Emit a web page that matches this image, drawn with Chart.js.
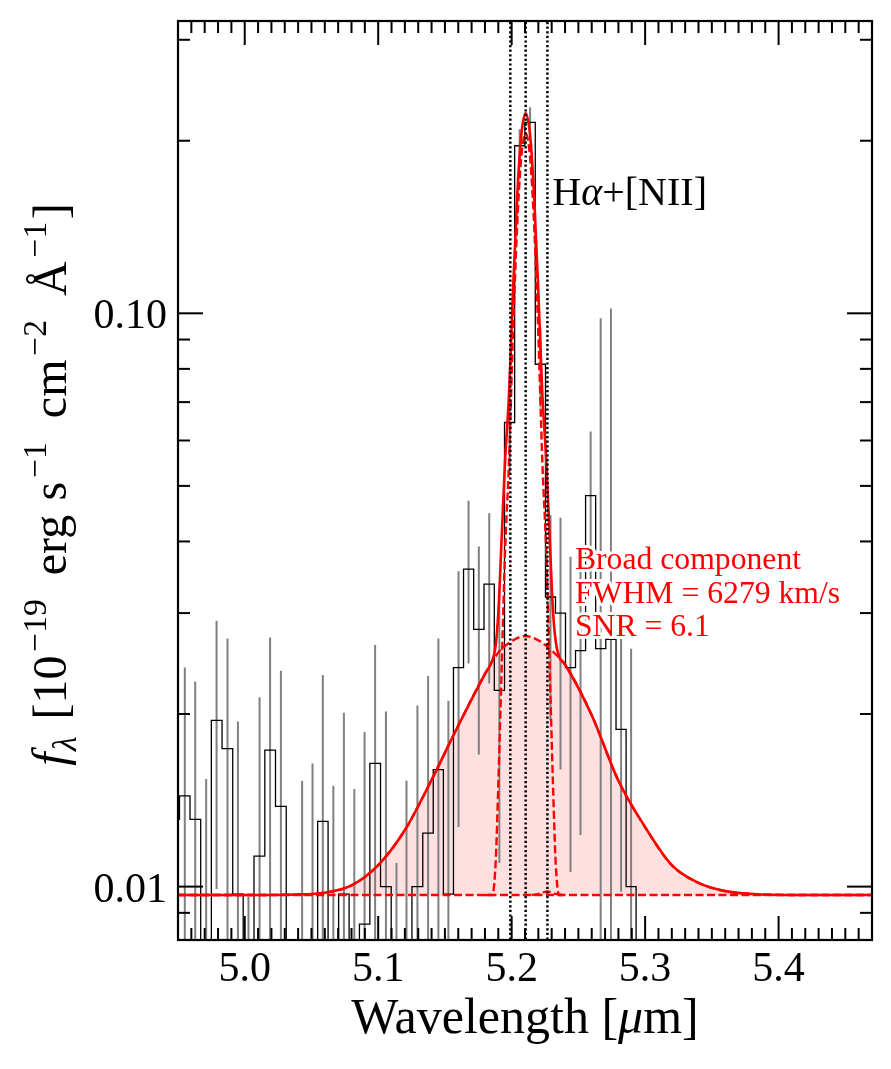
<!DOCTYPE html>
<html>
<head>
<meta charset="utf-8">
<script src="https://cdn.jsdelivr.net/npm/chart.js@4.4.1/dist/chart.umd.min.js"></script>
<style>
  html, body { margin: 0; padding: 0; background: #fff; }
  canvas { display: block; }
</style>
</head>
<body>
<canvas id="spec" width="891" height="1069"></canvas>
<script>
// binned spectrum: bin centres [micron], flux and 1-sigma error [1e-19 erg/s/cm2/A]
const wave = [4.9471, 4.9551, 4.9629, 4.9711, 4.9789, 4.9871, 4.9949, 5.0028, 5.0111, 5.0190,
              5.0271, 5.0351, 5.0430, 5.0508, 5.0585, 5.0664, 5.0743, 5.0821, 5.0898, 5.0977,
              5.1058, 5.1137, 5.1212, 5.1294, 5.1374, 5.1451, 5.1526, 5.1602, 5.1677, 5.1754,
              5.1832, 5.1908, 5.1985, 5.2060, 5.2138, 5.2216, 5.2291, 5.2366, 5.2441, 5.2516,
              5.2592, 5.2667, 5.2744, 5.2820, 5.2895, 5.2970];
const flux = [0.0131, 0.0144, 0.0131, 0.0057, 0.0195, 0.0174, 0.0097, 0.0020, 0.0113, 0.0173,
              0.0138, 0.0040, 0.0055, 0.0065, 0.0130, 0.0050, 0.0097, 0.0048, 0.0086, 0.0164,
              0.0100, 0.0010, 0.0050, 0.0100, 0.0124, 0.0160, 0.0097, 0.0241, 0.0358, 0.0281,
              0.0337, 0.0220, 0.0645, 0.1960, 0.2153, 0.0815, 0.0320, 0.0300, 0.0241, 0.0258,
              0.0481, 0.0260, 0.0270, 0.0188, 0.0100, 0.0010];
const fluxErr = [0.0097, 0.0097, 0.0097, 0.0097, 0.0096, 0.0097, 0.0097, 0.0076, 0.0101, 0.0099,
                 0.0100, 0.0030, 0.0098, 0.0099, 0.0104, 0.0100, 0.0104, 0.0100, 0.0100, 0.0100,
                 0.0102, 0.0100, 0.0103, 0.0107, 0.0109, 0.0111, 0.0114, 0.0114, 0.0113, 0.0111,
                 0.0111, 0.0110, 0.0120, 0.0134, 0.0134, 0.0130, 0.0125, 0.0140, 0.0135, 0.0135,
                 0.0141, 0.0720, 0.0750, 0.0090, 0.0160, 0];

// fitted model
const contWave = [4.95, 5.47];
const contFlux = [0.00967, 0.00967];

const broadWave = [4.95, 5.00, 5.04, 5.06, 5.08, 5.10, 5.12, 5.14, 5.16, 5.18, 5.19, 5.20, 5.21,
                   5.22, 5.23, 5.24, 5.26, 5.28, 5.30, 5.32, 5.34, 5.36, 5.38, 5.42, 5.47];
const broadFlux = [0.00967, 0.00967, 0.00969, 0.00976, 0.01005, 0.01090, 0.01255, 0.01535, 0.01910,
                   0.02350, 0.02560, 0.02680, 0.02736, 0.02690, 0.02580, 0.02440, 0.01990, 0.01530,
                   0.01270, 0.01090, 0.01015, 0.00982, 0.00971, 0.00967, 0.00967];

const narrowWave = [5.1800, 5.1855, 5.1880, 5.1900, 5.1925, 5.1950, 5.1980, 5.2010, 5.2040, 5.2070,
                    5.2105, 5.2140, 5.2170, 5.2200, 5.2230, 5.2260, 5.2285, 5.2310, 5.2330, 5.2355, 5.2400];
const narrowFlux = [0.00967, 0.00967, 0.0110, 0.0150, 0.0240, 0.0380, 0.0550, 0.0920, 0.1400, 0.1850,
                    0.2060, 0.1850, 0.1400, 0.0920, 0.0550, 0.0380, 0.0240, 0.0150, 0.0110, 0.00967, 0.00967];

const niiWave = [5.2150, 5.2210, 5.2268, 5.2320, 5.2380];
const niiFlux = [0.00967, 0.00972, 0.00981, 0.00972, 0.00967];

const totalWave = [4.95, 5.00, 5.04, 5.06, 5.08, 5.10, 5.12, 5.14, 5.16, 5.18, 5.1855, 5.1880, 5.1900,
                   5.1925, 5.1950, 5.1980, 5.2010, 5.2040, 5.2070, 5.2105, 5.2140, 5.2170, 5.2200,
                   5.2230, 5.2260, 5.2285, 5.2310, 5.2330, 5.2355, 5.24, 5.26, 5.28, 5.30, 5.32,
                   5.34, 5.36, 5.38, 5.42, 5.47];
const totalFlux = [0.00967, 0.00967, 0.00969, 0.00976, 0.01005, 0.01090, 0.01255, 0.01535, 0.01910,
                   0.02350, 0.0248, 0.0263, 0.0300, 0.0405, 0.0548, 0.0720, 0.1090, 0.1572, 0.2023,
                   0.2236, 0.2023, 0.1572, 0.1090, 0.0722, 0.0550, 0.0405, 0.0302, 0.0268, 0.0252,
                   0.0244, 0.0199, 0.0153, 0.0127, 0.0109, 0.01015, 0.00982, 0.00971, 0.00967, 0.00967];

// Halpha, [NII] 6548, 6583 at the fitted redshift
const lineWave = [5.1990, 5.2105, 5.2268];

const xTicks = [5.0, 5.1, 5.2, 5.3, 5.4];
const xTickLabels = ['5.0', '5.1', '5.2', '5.3', '5.4'];
const yTicks = [0.01, 0.1];
const yTickLabels = ['0.01', '0.10'];
const yMinor = [0.009, 0.02, 0.03, 0.04, 0.05, 0.06, 0.07, 0.08, 0.09, 0.2, 0.3];

const xy = (xs, ys) => xs.map((x, i) => ({ x: x, y: ys[i] }));

const errPts = [];
wave.forEach((w, i) => {
    errPts.push({ x: w, y: Math.max(flux[i] - fluxErr[i], 1e-4) });
    errPts.push({ x: w, y: flux[i] + fluxErr[i] });
    errPts.push({ x: w, y: null });
});

const SERIF = '"Liberation Serif", "Times New Roman", serif';
const RED = '#ff0000';

function segFont(p, size) {
    const s = (p.sup || p.sub) ? size * 0.7 : size;
    return (p.italic ? 'italic ' : '') + s.toFixed(1) + 'px ' + SERIF;
}

// draws a run of text pieces (italic / super / subscript); pre/pad = extra gap before/after, in em
function richText(ctx, parts, x, y, size, align) {
    let w = 0;
    parts.forEach(p => {
        ctx.font = segFont(p, size);
        p.w = ctx.measureText(p.t).width + ((p.pre || 0) + (p.pad || 0)) * size;
        w += p.w;
    });
    let cx = align === 'center' ? x - w / 2 : x;
    parts.forEach(p => {
        ctx.font = segFont(p, size);
        const dy = p.sup ? -0.42 * size : (p.sub ? 0.2 * size : 0);
        ctx.fillText(p.t, cx + (p.pre || 0) * size, y + dy);
        cx += p.w;
    });
}

const axesDecor = {
    id: 'axesDecor',
    afterDatasetsDraw(chart) {
        const ctx = chart.ctx, a = chart.chartArea;
        const xs = chart.scales.x, ys = chart.scales.y;
        ctx.save();
        ctx.strokeStyle = '#000';
        ctx.fillStyle = '#000';

        // inward ticks on all four sides
        const tick = (x1, y1, x2, y2, lw) => {
            ctx.lineWidth = lw;
            ctx.beginPath(); ctx.moveTo(x1, y1); ctx.lineTo(x2, y2); ctx.stroke();
        };
        for (let v = 4.95; v <= 5.47 + 1e-9; v += 0.01) {
            const px = xs.getPixelForValue(v);
            const major = xTicks.some(t => Math.abs(t - v) < 1e-6);
            const len = major ? 24 : 12;
            tick(px, a.bottom, px, a.bottom - len, 2);
            tick(px, a.top, px, a.top + len, 2);
        }
        yTicks.concat(yMinor).forEach(v => {
            const py = ys.getPixelForValue(v);
            const len = yTicks.includes(v) ? 25 : 12;
            tick(a.left, py, a.left + len, py, 2);
            tick(a.right, py, a.right - len, py, 2);
        });
        ctx.lineWidth = 2.2;
        ctx.strokeRect(a.left, a.top, a.right - a.left, a.bottom - a.top);

        // tick labels
        ctx.font = '42px ' + SERIF;
        ctx.textBaseline = 'alphabetic';
        ctx.textAlign = 'center';
        xTicks.forEach((v, i) => ctx.fillText(xTickLabels[i], xs.getPixelForValue(v), a.bottom + 41));
        ctx.textAlign = 'right';
        yTicks.forEach((v, i) => ctx.fillText(yTickLabels[i], a.left - 11, ys.getPixelForValue(v) + 15));

        // axis titles
        ctx.textAlign = 'left';
        richText(ctx, [{ t: 'Wavelength [' }, { t: 'μ', italic: true }, { t: 'm]' }],
                 (a.left + a.right) / 2, a.bottom + 93, 50, 'center');
        ctx.save();
        ctx.translate(66, (a.top + a.bottom) / 2 + 4);
        ctx.rotate(-Math.PI / 2);
        richText(ctx, [
            { t: 'f', italic: true, pad: 0.03 }, { t: 'λ', italic: true, sub: true, pad: 0.1 },
            { t: ' [10' }, { t: '−19', sup: true, pre: 0.08, pad: 0.5 },
            { t: 'erg', pad: 0.3 }, { t: 's' }, { t: '−1', sup: true, pre: 0.08, pad: 0.5 },
            { t: 'cm' }, { t: '−2', sup: true, pre: 0.08, pad: 0.5 },
            { t: 'Å' }, { t: '−1', sup: true, pre: 0.08, pad: 0.05 }, { t: ']' }
        ], 0, 0, 48, 'center');
        ctx.restore();

        // line label
        richText(ctx, [{ t: 'H' }, { t: 'α', italic: true }, { t: '+[NII]' }],
                 xs.getPixelForValue(5.2305), ys.getPixelForValue(0.1545), 40, 'left');

        // broad component note, red with white halo
        const notes = ['Broad component', 'FWHM = 6279 km/s', 'SNR = 6.1'];
        const nx = xs.getPixelForValue(5.2474), ny = ys.getPixelForValue(0.0358);
        ctx.font = '31.7px ' + SERIF;
        ctx.lineJoin = 'round';
        ctx.lineWidth = 6;
        ctx.strokeStyle = '#fff';
        ctx.fillStyle = RED;
        notes.forEach((s, i) => {
            ctx.strokeText(s, nx, ny + i * 33.5);
            ctx.fillText(s, nx, ny + i * 33.5);
        });
        ctx.restore();
    }
};

const dashed = [8, 3.5];
const lineDefaults = { pointRadius: 0, pointHoverRadius: 0, fill: false };

const datasets = [
    Object.assign({ label: 'error', data: errPts, borderColor: '#808080', borderWidth: 2, order: 8 }, lineDefaults),
    Object.assign({ label: 'data', data: xy(wave, flux), borderColor: '#000', borderWidth: 1.3,
                    stepped: 'middle', order: 7 }, lineDefaults),
    Object.assign({ label: 'continuum', data: xy(contWave, contFlux), borderColor: RED, borderWidth: 2.4,
                    borderDash: dashed, order: 5 }, lineDefaults),
    Object.assign({}, lineDefaults, { label: 'broad', data: xy(broadWave, broadFlux), borderColor: RED,
                    borderWidth: 2.4, borderDash: dashed, cubicInterpolationMode: 'monotone',
                    fill: { value: contFlux[0] }, backgroundColor: 'rgba(255,0,0,0.12)', order: 4 }),
    Object.assign({ label: 'nii', data: xy(niiWave, niiFlux), borderColor: RED, borderWidth: 2.4,
                    borderDash: dashed, cubicInterpolationMode: 'monotone', order: 3 }, lineDefaults),
    Object.assign({ label: 'narrow', data: xy(narrowWave, narrowFlux), borderColor: RED, borderWidth: 2.4,
                    borderDash: dashed, cubicInterpolationMode: 'monotone', order: 2 }, lineDefaults),
    Object.assign({ label: 'total', data: xy(totalWave, totalFlux), borderColor: RED, borderWidth: 2.6,
                    cubicInterpolationMode: 'monotone', order: 1 }, lineDefaults)
];
lineWave.forEach(w => {
    datasets.push(Object.assign({ label: 'line', data: [{ x: w, y: 0.005 }, { x: w, y: 0.5 }],
        borderColor: '#000', borderWidth: 2.5, borderDash: [2.2, 2.4], borderCapStyle: 'butt', order: 0 }, lineDefaults));
});

new Chart(document.getElementById('spec'), {
    type: 'line',
    data: { datasets: datasets },
    options: {
        responsive: false,
        animation: false,
        devicePixelRatio: 1,
        layout: { padding: { left: 178, right: 19, top: 21, bottom: 129 } },
        scales: {
            x: { type: 'linear', min: 4.95, max: 5.47, display: false },
            y: { type: 'logarithmic', min: 0.00807, max: 0.3235, display: false }
        },
        plugins: {
            legend: { display: false },
            tooltip: { enabled: false },
            filler: { drawTime: 'beforeDatasetsDraw' }
        },
        events: []
    },
    plugins: [axesDecor]
});
</script>
</body>
</html>
